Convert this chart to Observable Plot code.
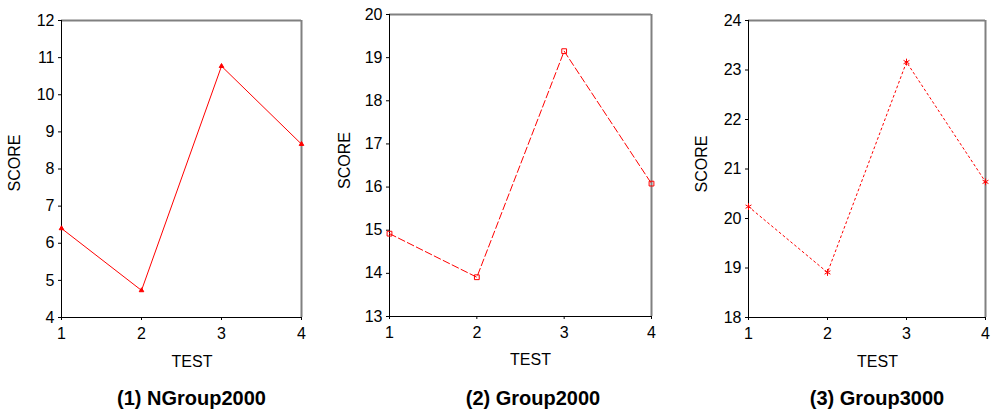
<!DOCTYPE html>
<html>
<head>
<meta charset="utf-8">
<script src="https://cdn.jsdelivr.net/npm/d3@7"></script>
<script src="https://cdn.jsdelivr.net/npm/@observablehq/plot@0.6"></script>
<style>
  html, body { margin: 0; padding: 0; background: #fff; }
  #root { position: relative; width: 997px; height: 410px; overflow: hidden;
          font-family: "Liberation Sans", Arial, sans-serif; }
  .panel { position: absolute; top: 0; }
  .title { position: absolute; width: 240px; text-align: center; font-weight: bold;
           font-size: 20px; line-height: 20px; color: #000; }
</style>
</head>
<body>
<div id="root"></div>
<script>
// ---- data ----
const tests = [1, 2, 3, 4];
const scoreNGroup2000 = [6.4, 4.73, 10.77, 8.67];
const scoreGroup2000 = [14.92, 13.91, 19.15, 16.08];
const scoreGroup3000 = [20.24, 18.91, 23.16, 20.74];
const yTicksNGroup2000 = [4, 5, 6, 7, 8, 9, 10, 11, 12];
const yTicksGroup2000 = [13, 14, 15, 16, 17, 18, 19, 20];
const yTicksGroup3000 = [18, 19, 20, 21, 22, 23, 24];
const titles = ["(1) NGroup2000", "(2) Group2000", "(3) Group3000"];
const xLabel = "TEST";
const yLabel = "SCORE";

// ---- layout / style per panel ----
const panels = [
  { scores: scoreNGroup2000, yTicks: yTicksNGroup2000, title: titles[0],
    left: 0, mL: 61, mR: 29, mT: 20, mB: 58,
    yLabDx: -47, yLabDy: -6, xLabDx: 10.5, xLabDy: 44, titleX: 191.5,
    dash: null, symbol: "triangle", r: 1.7, fill: "red" },
  { scores: scoreGroup2000, yTicks: yTicksGroup2000, title: titles[1],
    left: 330, mL: 59, mR: 9, mT: 14, mB: 59,
    yLabDx: -45, yLabDy: -5, xLabDx: 10, xLabDy: 43.5, titleX: 533,
    dash: "7,3", symbol: "square", r: 2.7, fill: "none" },
  { scores: scoreGroup3000, yTicks: yTicksGroup3000, title: titles[2],
    left: 667, mL: 81, mR: 12, mT: 20, mB: 58,
    yLabDx: -47, yLabDy: -5, xLabDx: 10.5, xLabDy: 44, titleX: 877,
    dash: "2,3", symbol: "asterisk", r: 3.2, fill: "none" }
];

const root = document.getElementById("root");
const W = 330, H = 375;

panels.forEach(p => {
  const data = tests.map((t, i) => ({ test: t, score: p.scores[i] }));
  const yMin = p.yTicks[0], yMax = p.yTicks[p.yTicks.length - 1];
  const chart = Plot.plot({
    width: W,
    height: H,
    marginLeft: p.mL,
    marginRight: p.mR,
    marginTop: p.mT,
    marginBottom: p.mB,
    style: { fontFamily: "'Liberation Sans', Arial, sans-serif", fontSize: "16px", color: "#000", background: "#fff", overflow: "visible" },
    x: { domain: [tests[0], tests[tests.length - 1]], ticks: tests, tickFormat: d => String(d),
         tickSize: 3, tickPadding: 7, label: null },
    y: { domain: [yMin, yMax], ticks: p.yTicks, tickFormat: d => String(d),
         tickSize: 3, tickPadding: 4, label: null },
    marks: [
      Plot.ruleY([yMax], { stroke: "#808080", strokeWidth: 2 }),
      Plot.ruleX([tests[tests.length - 1]], { stroke: "#808080", strokeWidth: 2 }),
      Plot.ruleX([tests[0]], { stroke: "#000", strokeWidth: 1 }),
      Plot.ruleY([yMin], { stroke: "#000", strokeWidth: 1 }),
      Plot.line(data, { x: "test", y: "score", stroke: "#ff0000", strokeWidth: 1,
                        strokeDasharray: p.dash || undefined }),
      Plot.dot(data, { x: "test", y: "score", symbol: p.symbol, r: p.r,
                       stroke: "#ff0000", strokeWidth: 1, fill: p.fill === "none" ? "none" : "#ff0000" }),
      Plot.text([yLabel], { frameAnchor: "left", text: d => d, rotate: -90,
                            textAnchor: "middle", lineAnchor: "middle",
                            dx: p.yLabDx, dy: p.yLabDy, fontSize: 16, fill: "#000" }),
      Plot.text([xLabel], { frameAnchor: "bottom", text: d => d,
                            textAnchor: "middle", lineAnchor: "middle",
                            dx: p.xLabDx, dy: p.xLabDy, fontSize: 16, fill: "#000" })
    ]
  });
  chart.classList.add("panel");
  chart.style.left = p.left + "px";
  root.appendChild(chart);

  const t = document.createElement("div");
  t.className = "title";
  t.textContent = p.title;
  t.style.left = (p.titleX - 120) + "px";
  t.style.top = "388px";
  root.appendChild(t);
});
</script>
</body>
</html>
